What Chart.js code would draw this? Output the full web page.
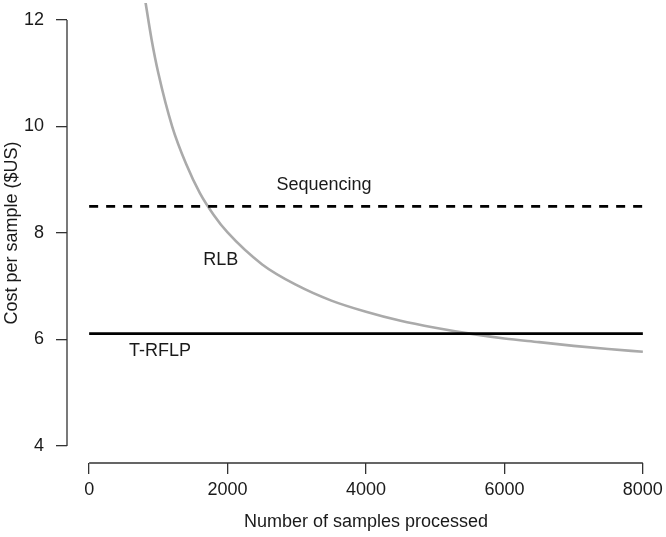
<!DOCTYPE html>
<html>
<head>
<meta charset="utf-8">
<script src="https://cdn.jsdelivr.net/npm/chart.js@4/dist/chart.umd.min.js"></script>
<style>
  html, body { margin: 0; padding: 0; background: #fff; }
  canvas { display: block; }
</style>
</head>
<body>
<canvas id="chart" width="666" height="537"></canvas>
<script>
// samples processed vs cost per sample
const rlbSamples = [800, 900, 1000, 1200, 1400, 1600, 1800, 2000, 2500, 3000, 3500, 4000, 4500, 5000, 5500, 6000, 6500, 7000, 7500, 8000];
const rlbCost    = [12.45, 11.65, 11.0, 10.0, 9.3, 8.75, 8.34, 8.01, 7.41, 7.02, 6.73, 6.52, 6.35, 6.22, 6.11, 6.02, 5.95, 5.88, 5.82, 5.77];
const flatSamples = [0, 8000];
const sequencingCost = [8.5, 8.5];
const trflpCost = [6.11, 6.11];

const xTicks = [0, 2000, 4000, 6000, 8000];
const yTicks = [4, 6, 8, 10, 12];

// method names written on the plot (anchor in data units)
const methodNames = ['Sequencing', 'RLB', 'T-RFLP'];
const nameX = [3394, 1902, 1025];
const nameY = [8.9, 7.49, 5.78];

const FONT = 'Liberation Sans, Arial, Helvetica, sans-serif';
const AXIS = '#333';

const toPoints = (xs, ys) => xs.map((x, i) => ({ x: x, y: ys[i] }));

// R-style axes: the line only runs from the first to the last tick
const rAxes = {
    id: 'rAxes',
    afterDraw(chart) {
        const { ctx, chartArea, scales } = chart;
        const x = scales.x, y = scales.y;
        ctx.save();
        ctx.strokeStyle = AXIS;
        ctx.lineWidth = 1.3;
        ctx.beginPath();
        ctx.moveTo(x.getPixelForValue(xTicks[0]), chartArea.bottom);
        ctx.lineTo(x.getPixelForValue(xTicks[xTicks.length - 1]), chartArea.bottom);
        ctx.moveTo(chartArea.left, y.getPixelForValue(yTicks[0]));
        ctx.lineTo(chartArea.left, y.getPixelForValue(yTicks[yTicks.length - 1]));
        ctx.stroke();

        ctx.fillStyle = '#1a1a1a';
        ctx.font = '18px ' + FONT;
        ctx.textAlign = 'center';
        ctx.textBaseline = 'middle';
        methodNames.forEach((name, i) => {
            ctx.fillText(name, x.getPixelForValue(nameX[i]), y.getPixelForValue(nameY[i]));
        });
        ctx.restore();
    }
};

const tickFont = { family: FONT, size: 18 };
const noPad = s => { s.paddingTop = 0; s.paddingBottom = 0; s.paddingLeft = 0; s.paddingRight = 0; };

new Chart(document.getElementById('chart'), {
    type: 'line',
    data: {
        datasets: [
            {
                label: 'Sequencing',
                data: toPoints(flatSamples, sequencingCost),
                borderColor: '#000',
                borderWidth: 2.6,
                borderDash: [9, 8],
                pointRadius: 0
            },
            {
                label: 'T-RFLP',
                data: toPoints(flatSamples, trflpCost),
                borderColor: '#000',
                borderWidth: 2.6,
                pointRadius: 0
            },
            {
                label: 'RLB',
                data: toPoints(rlbSamples, rlbCost),
                borderColor: '#aaaaaa',
                borderWidth: 2.6,
                pointRadius: 0,
                cubicInterpolationMode: 'monotone'
            }
        ]
    },
    options: {
        responsive: false,
        animation: false,
        layout: { padding: { top: 3, right: 1, left: 0, bottom: 0 } },
        plugins: {
            legend: { display: false },
            tooltip: { enabled: false }
        },
        scales: {
            x: {
                type: 'linear',
                min: -320,
                max: 8320,
                afterBuildTicks: s => { s.ticks = xTicks.map(v => ({ value: v })); },
                afterFit: s => { s.height = 74; noPad(s); },
                border: { display: false },
                grid: { drawOnChartArea: false, tickLength: 11, color: AXIS, lineWidth: 1.3 },
                ticks: { font: tickFont, color: '#1a1a1a', padding: 5, maxRotation: 0, callback: v => String(v) },
                title: {
                    display: true,
                    text: 'Number of samples processed',
                    font: tickFont,
                    color: '#1a1a1a',
                    padding: { top: 0, bottom: 4 }
                }
            },
            y: {
                type: 'linear',
                min: 3.68,
                max: 12.32,
                afterBuildTicks: s => { s.ticks = yTicks.map(v => ({ value: v })); },
                afterFit: s => { s.width = 67; noPad(s); },
                border: { display: false },
                grid: { drawOnChartArea: false, tickLength: 11, color: AXIS, lineWidth: 1.3 },
                ticks: { font: tickFont, color: '#1a1a1a', padding: 12, callback: v => String(v) },
                title: {
                    display: true,
                    text: 'Cost per sample ($US)',
                    font: tickFont,
                    color: '#1a1a1a',
                    padding: { top: 1, bottom: 0 }
                }
            }
        }
    },
    plugins: [rAxes]
});
</script>
</body>
</html>
